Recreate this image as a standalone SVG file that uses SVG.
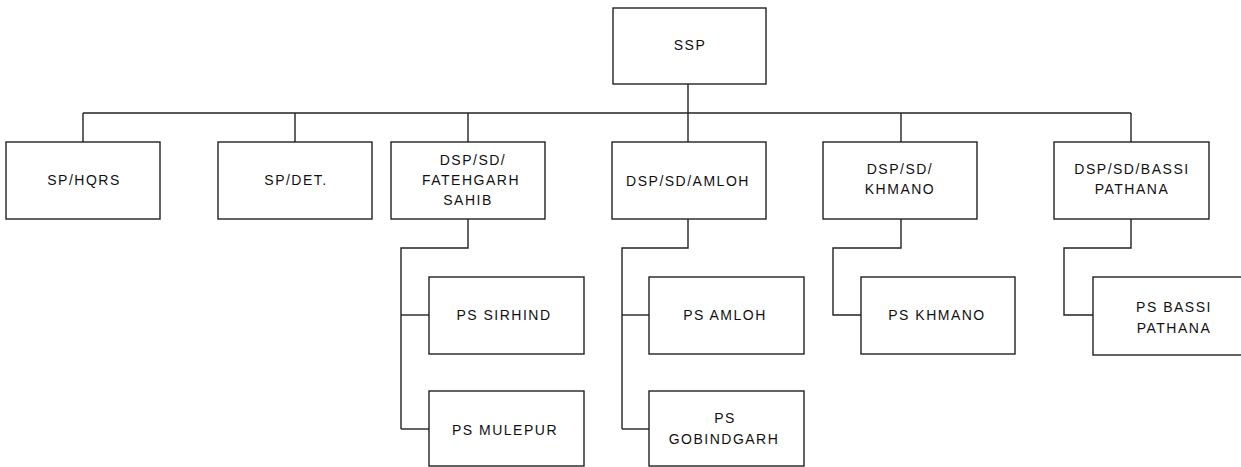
<svg xmlns="http://www.w3.org/2000/svg" width="1241" height="467" viewBox="0 0 1241 467">
  <style>
    .box { fill: #ffffff; stroke: #222222; stroke-width: 1.4; }
    .lbl { font-family: "Liberation Sans", Arial, sans-serif; font-size: 14px; letter-spacing: 1.5px; fill: #111111; text-anchor: middle; }
    .wire { fill: none; stroke: #222222; stroke-width: 1.4; }
  </style>
  <rect width="1241" height="467" fill="#ffffff"/>

  <!-- connectors -->
  <g id="connectors" class="wire">
    <path d="M688,84 V113"/>
    <path d="M83,113 H1131"/>
    <path d="M83,113 V142"/>
    <path d="M295,113 V142"/>
    <path d="M468,113 V142"/>
    <path d="M688,113 V142"/>
    <path d="M901,113 V142"/>
    <path d="M1131,113 V142"/>
    <!-- Fatehgarh Sahib sub-division -->
    <path d="M468,219 V248 H401 V429"/>
    <path d="M401,315 H429"/>
    <path d="M401,429 H429"/>
    <!-- Amloh sub-division -->
    <path d="M688,219 V248 H622 V429"/>
    <path d="M622,315 H649"/>
    <path d="M622,429 H649"/>
    <!-- Khmano sub-division -->
    <path d="M901,219 V248 H833 V315 H861"/>
    <!-- Bassi Pathana sub-division -->
    <path d="M1131,219 V248 H1064 V315 H1093"/>
  </g>

  <g id="ssp">
    <rect class="box" x="613" y="8" width="153" height="76"/>
    <text class="lbl" x="690" y="50">SSP</text>
  </g>

  <g id="sp-hqrs">
    <rect class="box" x="6" y="142" width="154" height="77"/>
    <text class="lbl" x="84" y="185">SP/HQRS</text>
  </g>

  <g id="sp-det">
    <rect class="box" x="218" y="142" width="154" height="77"/>
    <text class="lbl" x="296" y="185">SP/DET.</text>
  </g>

  <g id="dsp-fatehgarh">
    <rect class="box" x="391" y="142" width="154" height="77"/>
    <text class="lbl" x="473" y="165">DSP/SD/</text>
    <text class="lbl" x="471" y="185">FATEHGARH</text>
    <text class="lbl" x="468" y="205">SAHIB</text>
  </g>

  <g id="dsp-amloh">
    <rect class="box" x="612" y="142" width="154" height="77"/>
    <text class="lbl" x="688" y="186">DSP/SD/AMLOH</text>
  </g>

  <g id="dsp-khmano">
    <rect class="box" x="823" y="142" width="154" height="77"/>
    <text class="lbl" x="900" y="174">DSP/SD/</text>
    <text class="lbl" x="900" y="194">KHMANO</text>
  </g>

  <g id="dsp-bassi">
    <rect class="box" x="1054" y="142" width="155" height="77"/>
    <text class="lbl" x="1132" y="174">DSP/SD/BASSI</text>
    <text class="lbl" x="1132" y="194">PATHANA</text>
  </g>

  <g id="ps-sirhind">
    <rect class="box" x="429" y="277" width="155" height="77"/>
    <text class="lbl" x="504" y="320">PS SIRHIND</text>
  </g>

  <g id="ps-mulepur">
    <rect class="box" x="429" y="391" width="155" height="75"/>
    <text class="lbl" x="505" y="435">PS MULEPUR</text>
  </g>

  <g id="ps-amloh">
    <rect class="box" x="649" y="277" width="155" height="77"/>
    <text class="lbl" x="725" y="320">PS AMLOH</text>
  </g>

  <g id="ps-gobindgarh">
    <rect class="box" x="649" y="391" width="155" height="75"/>
    <text class="lbl" x="725" y="423">PS</text>
    <text class="lbl" x="724" y="444">GOBINDGARH</text>
  </g>

  <g id="ps-khmano">
    <rect class="box" x="861" y="277" width="154" height="77"/>
    <text class="lbl" x="937" y="320">PS KHMANO</text>
  </g>

  <g id="ps-bassi">
    <rect class="box" x="1093" y="277" width="155" height="78"/>
    <text class="lbl" x="1174" y="312">PS BASSI</text>
    <text class="lbl" x="1174" y="333">PATHANA</text>
  </g>
</svg>
